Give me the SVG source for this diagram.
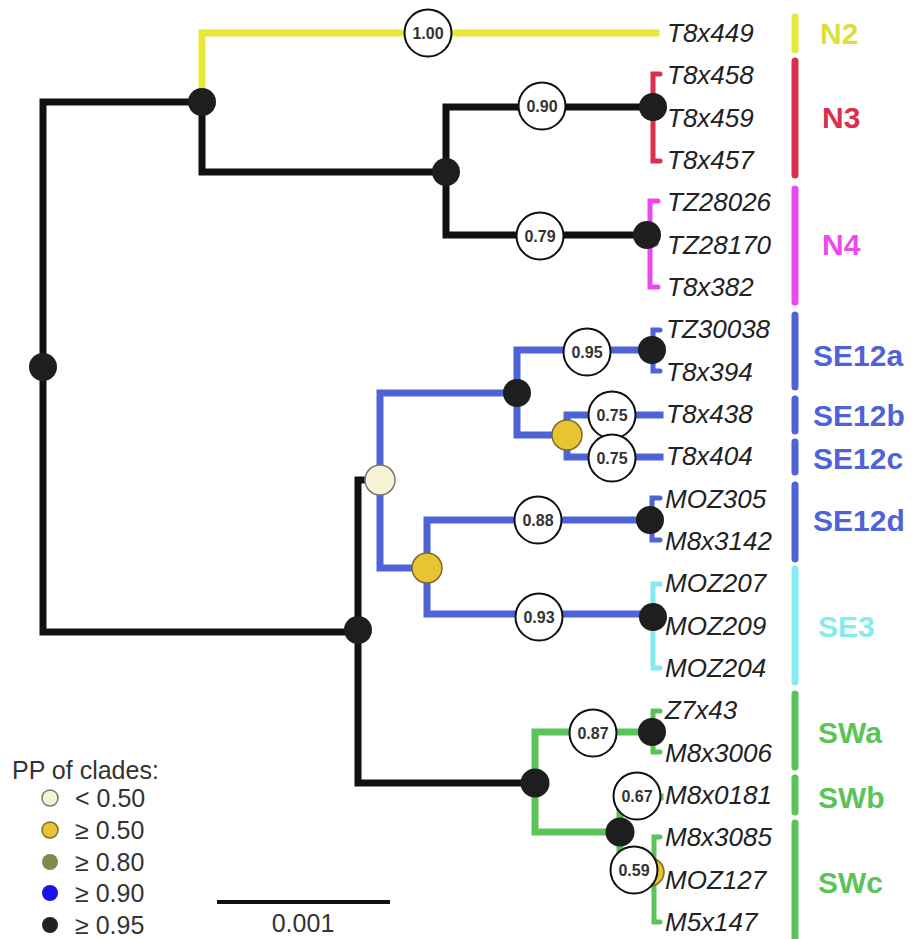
<svg xmlns="http://www.w3.org/2000/svg" width="916" height="939" viewBox="0 0 916 939">
<style>
.br{fill:none;stroke-width:7;stroke-linecap:square;stroke-linejoin:miter}
.k{stroke:#111}
.y{stroke:#e8e83a}
.r{stroke:#d8304e}
.m{stroke:#ec48ec}
.b{stroke:#4f63d8}
.c{stroke:#84ecf0}
.g{stroke:#5ac45a}
.tip{fill:none;stroke-width:5;stroke-linecap:round}
.bar{stroke-width:7;stroke-linecap:round}
.nd{fill:#1e1e1e}
.lo{fill:#f6f3d2;stroke:#777;stroke-width:1.5}
.mid{fill:#e8c332;stroke:#7d6a2a;stroke-width:1.5}
.pp circle{fill:#fff;stroke:#111;stroke-width:2}
.pp text{font-family:"Liberation Sans",Arial,sans-serif;font-weight:bold;font-size:16px;fill:#333;text-anchor:middle}
.lab{font-family:"Liberation Sans",Arial,sans-serif;font-style:italic;font-size:26px;fill:#222}
.cl{font-family:"Liberation Sans",Arial,sans-serif;font-weight:bold;font-size:30px}
.lg{font-family:"Liberation Sans",Arial,sans-serif;font-size:25px;fill:#333}
</style>
<rect width="916" height="939" fill="#fff"/>
<g id="connectors">
  <path class="br k" d="M202,102 H43 V632 H358"/>
  <path class="br k" d="M202,102 V172 H446"/>
  <path class="br y" d="M202,102 V33 H656"/>
  <path class="br k" d="M653,107 H446 V235 H647"/>
  <path class="br k" d="M380,480 H358 V783 H535"/>
  <path class="br b" d="M517,393 H380 V568 H427"/>
  <path class="br b" d="M652,350 H517 V435 H567"/>
  <path class="br b" d="M660,415 H567 V457 H660"/>
  <path class="br b" d="M650,520 H427 V614 H653"/>
  <path class="br g" d="M652,732 H535 V832 H620"/>
  <path class="br g" d="M660,797 H620 V872 H653"/>
  <path class="tip r" d="M660,74 H653 V161 H660 M653,117 H658"/>
  <path class="tip m" d="M658,201 H650 V287 H658 M650,244 H656"/>
  <path class="tip b" d="M660,330 H653 V371 H660"/>
  <path class="tip b" d="M660,498 H652 V540 H660"/>
  <path class="tip c" d="M660,584 H653 V668 H660"/>
  <path class="tip g" d="M660,711 H653 V752 H660"/>
  <path class="tip g" d="M660,837 H654 V922 H660"/>
</g>
<g id="nodes-internal">
  <circle id="n-root" class="nd" cx="43" cy="367" r="14"/>
  <circle id="n-a" class="nd" cx="202" cy="102" r="14"/>
  <circle id="n-b" class="nd" cx="446" cy="172" r="14"/>
  <circle id="n-n3" class="nd" cx="653" cy="107" r="14"/>
  <circle id="n-n4" class="nd" cx="647" cy="235" r="14"/>
  <circle id="n-c" class="nd" cx="358" cy="630" r="14"/>
  <circle id="n-se" class="lo" cx="380" cy="480" r="15"/>
  <circle id="n-se12abc" class="nd" cx="517" cy="393" r="14"/>
  <circle id="n-se12a" class="nd" cx="652" cy="350" r="14"/>
  <circle id="n-se12bc" class="mid" cx="567" cy="435" r="15"/>
  <circle id="n-se12d3" class="mid" cx="427" cy="568" r="15"/>
  <circle id="n-se12d" class="nd" cx="650" cy="520" r="14"/>
  <circle id="n-se3" class="nd" cx="653" cy="617" r="14"/>
  <circle id="n-sw" class="nd" cx="535" cy="783" r="14.5"/>
  <circle id="n-swa" class="nd" cx="652" cy="732" r="14"/>
  <circle id="n-swc" class="mid" cx="650" cy="872" r="14"/>
  <circle id="n-swbc" class="nd" cx="620" cy="832" r="14.5"/>
</g>
<g id="pp-labels" class="pp">
  <g id="pp-100"><circle cx="428" cy="33" r="23.5"/><text x="428" y="39">1.00</text></g>
  <g id="pp-090"><circle cx="542" cy="106" r="23.5"/><text x="542" y="112">0.90</text></g>
  <g id="pp-079"><circle cx="540" cy="236" r="23.5"/><text x="540" y="242">0.79</text></g>
  <g id="pp-095"><circle cx="587" cy="352" r="23.5"/><text x="587" y="358">0.95</text></g>
  <g id="pp-075a"><circle cx="612" cy="415" r="23.5"/><text x="612" y="421">0.75</text></g>
  <g id="pp-075b"><circle cx="612" cy="458" r="23.5"/><text x="612" y="464">0.75</text></g>
  <g id="pp-088"><circle cx="538" cy="520" r="23.5"/><text x="538" y="526">0.88</text></g>
  <g id="pp-093"><circle cx="539" cy="617" r="23.5"/><text x="539" y="623">0.93</text></g>
  <g id="pp-087"><circle cx="593" cy="733" r="23.5"/><text x="593" y="739">0.87</text></g>
  <g id="pp-067"><circle cx="637" cy="796" r="23.5"/><text x="637" y="802">0.67</text></g>
  <g id="pp-059"><circle cx="634" cy="870" r="23.5"/><text x="634" y="876">0.59</text></g>
</g>
<g id="tips" class="lab">
  <text x="667" y="42">T8x449</text>
  <text x="667" y="84">T8x458</text>
  <text x="667" y="127">T8x459</text>
  <text x="667" y="169">T8x457</text>
  <text x="667" y="211">TZ28026</text>
  <text x="667" y="254">TZ28170</text>
  <text x="667" y="296">T8x382</text>
  <text x="666" y="338">TZ30038</text>
  <text x="666" y="381">T8x394</text>
  <text x="666" y="423">T8x438</text>
  <text x="666" y="465">T8x404</text>
  <text x="665" y="508">MOZ305</text>
  <text x="665" y="550">M8x3142</text>
  <text x="665" y="592">MOZ207</text>
  <text x="665" y="635">MOZ209</text>
  <text x="665" y="677">MOZ204</text>
  <text x="665" y="719">Z7x43</text>
  <text x="665" y="762">M8x3006</text>
  <text x="665" y="804">M8x0181</text>
  <text x="665" y="846">M8x3085</text>
  <text x="665" y="889">MOZ127</text>
  <text x="665" y="931">M5x147</text>
</g>
<g id="clades">
  <g id="clade-N2"><line class="bar y" x1="795" y1="17" x2="795" y2="50"/><text class="cl" x="820" y="44" fill="#dede3c">N2</text></g>
  <g id="clade-N3"><line class="bar r" x1="795" y1="61" x2="795" y2="175"/><text class="cl" x="822" y="128" fill="#d8304e">N3</text></g>
  <g id="clade-N4"><line class="bar m" x1="795" y1="189" x2="795" y2="302"/><text class="cl" x="822" y="255" fill="#ec48ec">N4</text></g>
  <g id="clade-SE12a"><line class="bar b" x1="795" y1="315" x2="795" y2="387"/><text class="cl" x="813" y="366" fill="#4f63d8">SE12a</text></g>
  <g id="clade-SE12b"><line class="bar b" x1="795" y1="399" x2="795" y2="431"/><text class="cl" x="813" y="426" fill="#4f63d8">SE12b</text></g>
  <g id="clade-SE12c"><line class="bar b" x1="795" y1="442" x2="795" y2="472"/><text class="cl" x="813" y="469" fill="#4f63d8">SE12c</text></g>
  <g id="clade-SE12d"><line class="bar b" x1="795" y1="485" x2="795" y2="559"/><text class="cl" x="813" y="531" fill="#4f63d8">SE12d</text></g>
  <g id="clade-SE3"><line class="bar c" x1="795" y1="569" x2="795" y2="682"/><text class="cl" x="818" y="637" fill="#84ecf0">SE3</text></g>
  <g id="clade-SWa"><line class="bar g" x1="795" y1="694" x2="795" y2="767"/><text class="cl" x="818" y="743" fill="#5ac45a">SWa</text></g>
  <g id="clade-SWb"><line class="bar g" x1="795" y1="778" x2="795" y2="812"/><text class="cl" x="818" y="808" fill="#5ac45a">SWb</text></g>
  <g id="clade-SWc"><line class="bar g" x1="795" y1="823" x2="795" y2="945"/><text class="cl" x="818" y="893" fill="#5ac45a">SWc</text></g>
</g>
<g id="legend" class="lg">
  <text x="12" y="779">PP of clades:</text>
  <circle cx="50" cy="798" r="8" fill="#f6f3d2" stroke="#777" stroke-width="1.5"/><text x="75" y="807">&lt; 0.50</text>
  <circle cx="50" cy="830" r="8" fill="#e8c332" stroke="#7d6a2a" stroke-width="1.5"/><text x="75" y="839">≥ 0.50</text>
  <circle cx="50" cy="862" r="8" fill="#7f8a4e"/><text x="75" y="871">≥ 0.80</text>
  <circle cx="50" cy="893" r="8" fill="#1c12e6"/><text x="75" y="902">≥ 0.90</text>
  <circle cx="50" cy="925" r="8" fill="#222"/><text x="75" y="934">≥ 0.95</text>
</g>
<g id="scale">
  <line x1="217" y1="902" x2="390" y2="902" stroke="#111" stroke-width="4"/>
  <text class="lg" x="303" y="932" text-anchor="middle">0.001</text>
</g>
</svg>
